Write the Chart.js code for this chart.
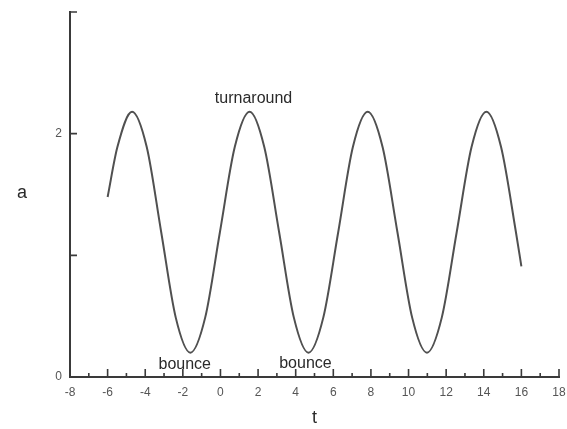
<!DOCTYPE html>
<html>
<head>
<meta charset="utf-8">
<script src="https://cdn.jsdelivr.net/npm/chart.js@4/dist/chart.umd.min.js"></script>
<style>
  html,body{margin:0;padding:0;background:#fff;}
  #wrap{width:567px;height:429px;}
</style>
</head>
<body>
<div id="wrap"><canvas id="c" width="567" height="429"></canvas></div>
<script>
// ---- data ----
const tValues = [-6.00,-5.48,-4.70,-3.92,-3.15,-2.38,-1.60,-0.81,-0.03,0.76,1.55,2.33,3.12,3.90,4.68,5.47,6.26,7.04,7.83,8.62,9.41,10.19,10.98,11.77,12.56,13.35,14.14,14.92,15.70,16.00];
const aValues = [1.48,1.89,2.18,1.89,1.19,0.49,0.20,0.49,1.19,1.89,2.18,1.89,1.19,0.49,0.20,0.49,1.19,1.89,2.18,1.89,1.19,0.49,0.20,0.49,1.19,1.89,2.18,1.89,1.20,0.91];
const xMajorTicks = [-8,-6,-4,-2,0,2,4,6,8,10,12,14,16,18];
const xMinorTicks = [-7,-5,-3,-1,1,3,5,7,9,11,13,15,17];
const yMajorTicks = [0,1,2,3];
const yTickLabels = [0,2];
const annotations = [
  {text:'turnaround', t:1.76, a:2.29},
  {text:'bounce', t:-1.9, a:0.105},
  {text:'bounce', t:4.52, a:0.11}
];
const xTitle = 't';
const yTitle = 'a';

const points = tValues.map((t,i)=>({x:t,y:aValues[i]}));
const FONT = '"Liberation Sans", Arial, sans-serif';
const AXIS_COLOR = '#3a3a3a';

const decor = {
  id:'decor',
  afterDraw(chart){
    const ctx = chart.ctx, xs = chart.scales.x, ys = chart.scales.y;
    const y0 = ys.getPixelForValue(0), x0 = xs.getPixelForValue(-8);
    ctx.save();
    ctx.strokeStyle = AXIS_COLOR;
    ctx.lineWidth = 1.6;
    ctx.beginPath();
    xMajorTicks.forEach(v=>{const p=xs.getPixelForValue(v); ctx.moveTo(p,y0); ctx.lineTo(p,y0-8);});
    xMinorTicks.forEach(v=>{const p=xs.getPixelForValue(v); ctx.moveTo(p,y0); ctx.lineTo(p,y0-4);});
    yMajorTicks.forEach(v=>{const p=ys.getPixelForValue(v); ctx.moveTo(x0,p); ctx.lineTo(x0+7,p);});
    ctx.stroke();
    ctx.fillStyle = '#2a2a2a';
    ctx.font = '16px ' + FONT;
    ctx.textAlign = 'center';
    ctx.textBaseline = 'middle';
    annotations.forEach(an=>{
      ctx.fillText(an.text, xs.getPixelForValue(an.t), ys.getPixelForValue(an.a));
    });
    ctx.font = '18px ' + FONT;
    ctx.fillText(xTitle, (xs.left + xs.right) / 2, 418);
    ctx.fillText(yTitle, 22, 193);
    ctx.restore();
  }
};

new Chart(document.getElementById('c'), {
  type:'line',
  data:{datasets:[{
    data:points,
    borderColor:'#505050',
    borderWidth:2,
    pointRadius:0,
    cubicInterpolationMode:'monotone',
    fill:false
  }]},
  options:{
    responsive:false,
    animation:false,
    events:[],
    layout:{padding:{top:12,right:8,left:0,bottom:0}},
    plugins:{legend:{display:false},tooltip:{enabled:false},title:{display:false}},
    scales:{
      x:{
        type:'linear', min:-8, max:18,
        afterFit(s){ s.height = 52; s.paddingLeft = 0; s.paddingRight = 0; },
        border:{display:true,color:AXIS_COLOR,width:2},
        grid:{display:false,drawTicks:false},
        ticks:{stepSize:2,padding:8,color:'#555',font:{family:FONT,size:12},maxRotation:0,autoSkip:false,
               callback:(v)=> xMajorTicks.includes(v) ? String(v) : ''}
      },
      y:{
        type:'linear', min:0, max:3,
        afterFit(s){ s.width = 70; s.paddingTop = 0; s.paddingBottom = 0; },
        border:{display:true,color:AXIS_COLOR,width:2},
        grid:{display:false,drawTicks:false},
        ticks:{stepSize:1,padding:8,color:'#555',font:{family:FONT,size:12},
               callback:(v)=> yTickLabels.includes(v) ? String(v) : ''}
      }
    }
  },
  plugins:[decor]
});
</script>
</body>
</html>
